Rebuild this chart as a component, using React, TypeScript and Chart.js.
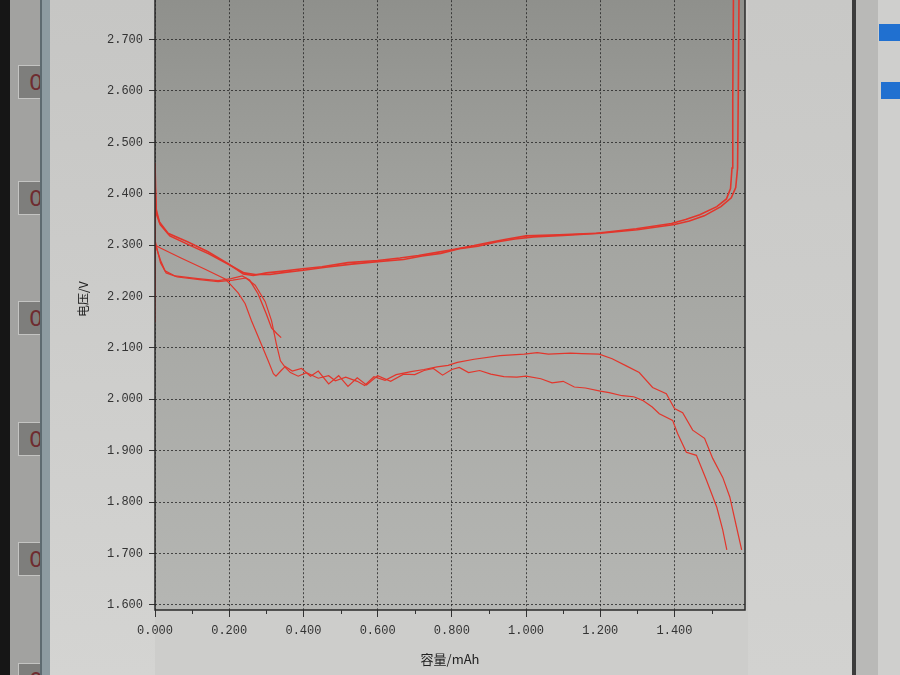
import React, { useEffect, useRef } from "react";
import { Chart, registerables } from "chart.js";
Chart.register(...registerables);

// ---- axis ticks ----
const X_TICKS = [0, 0.2, 0.4, 0.6, 0.8, 1.0, 1.2, 1.4];
const X_MINOR = [0.1, 0.3, 0.5, 0.7, 0.9, 1.1, 1.3, 1.5];
const Y_TICKS = [1.6, 1.7, 1.8, 1.9, 2.0, 2.1, 2.2, 2.3, 2.4, 2.5, 2.6, 2.7];
const X_RANGE = [0, 1.59];
const Y_RANGE = [1.59, 2.8];

// ---- charge curves (容量 mAh, 电压 V) ----
const C1_X = [0, 0, 0.003, 0.012, 0.035, 0.089, 0.143, 0.197, 0.238, 0.265, 0.3, 0.34, 0.386, 0.45, 0.52, 0.6, 0.66, 0.71, 0.76, 0.8, 0.86, 0.9, 0.95, 1.0, 1.089, 1.189, 1.297, 1.392, 1.43, 1.468, 1.514, 1.54, 1.551, 1.555, 1.557, 1.559];
const C1_Y = [2.15, 2.46, 2.37, 2.345, 2.323, 2.306, 2.287, 2.264, 2.244, 2.241, 2.246, 2.249, 2.253, 2.258, 2.266, 2.27, 2.275, 2.28, 2.286, 2.291, 2.299, 2.305, 2.312, 2.318, 2.32, 2.323, 2.332, 2.342, 2.35, 2.359, 2.375, 2.39, 2.41, 2.45, 2.58, 2.8];
const C2_X = [0, 0, 0.004, 0.014, 0.04, 0.09, 0.145, 0.2, 0.24, 0.27, 0.31, 0.35, 0.4, 0.46, 0.53, 0.6, 0.67, 0.72, 0.77, 0.82, 0.87, 0.92, 0.97, 1.02, 1.1, 1.2, 1.3, 1.4, 1.44, 1.48, 1.525, 1.553, 1.565, 1.57, 1.572, 1.574];
const C2_Y = [2.2, 2.42, 2.36, 2.34, 2.318, 2.301, 2.283, 2.262, 2.246, 2.243, 2.243, 2.247, 2.251, 2.257, 2.263, 2.268, 2.272, 2.279, 2.284, 2.293, 2.298, 2.306, 2.312, 2.316, 2.319, 2.323, 2.33, 2.34, 2.347, 2.357, 2.375, 2.392, 2.412, 2.45, 2.6, 2.8];

// ---- discharge curves ----
const D1_X = [0, 0.016, 0.07, 0.135, 0.189, 0.2, 0.224, 0.243, 0.26, 0.286, 0.305, 0.319, 0.326, 0.34, 0.351, 0.37, 0.395, 0.419, 0.44, 0.468, 0.495, 0.52, 0.545, 0.57, 0.6, 0.635, 0.67, 0.7, 0.725, 0.75, 0.775, 0.8, 0.82, 0.845, 0.875, 0.905, 0.94, 0.975, 1.0, 1.04, 1.07, 1.1, 1.13, 1.16, 1.2, 1.224, 1.259, 1.29, 1.314, 1.34, 1.359, 1.395, 1.408, 1.432, 1.459, 1.486, 1.514, 1.53, 1.541];
const D1_Y = [2.3, 2.294, 2.275, 2.253, 2.234, 2.226, 2.207, 2.186, 2.153, 2.108, 2.075, 2.05, 2.045, 2.056, 2.064, 2.055, 2.06, 2.045, 2.055, 2.03, 2.046, 2.025, 2.042, 2.028, 2.046, 2.035, 2.049, 2.048, 2.056, 2.06, 2.047, 2.058, 2.062, 2.052, 2.056, 2.049, 2.044, 2.043, 2.045, 2.04, 2.032, 2.035, 2.024, 2.022, 2.016, 2.013, 2.007, 2.005, 1.998, 1.985, 1.972, 1.959, 1.934, 1.897, 1.891, 1.843, 1.79, 1.746, 1.707];
const D2_X = [0, 0.008, 0.015, 0.03, 0.06, 0.12, 0.17, 0.21, 0.245, 0.27, 0.297, 0.314, 0.327, 0.338, 0.351, 0.365, 0.386, 0.408, 0.44, 0.468, 0.486, 0.514, 0.545, 0.565, 0.59, 0.62, 0.65, 0.69, 0.725, 0.76, 0.79, 0.815, 0.86, 0.93, 0.995, 1.03, 1.06, 1.12, 1.15, 1.197, 1.232, 1.27, 1.305, 1.341, 1.378, 1.4, 1.422, 1.449, 1.481, 1.503, 1.53, 1.549, 1.567, 1.581];
const D2_Y = [2.31, 2.285, 2.265, 2.246, 2.238, 2.233, 2.229, 2.232, 2.236, 2.222, 2.19, 2.153, 2.108, 2.075, 2.062, 2.052, 2.045, 2.052, 2.041, 2.046, 2.036, 2.043, 2.035, 2.027, 2.044, 2.037, 2.048, 2.054, 2.058, 2.063, 2.066, 2.072, 2.078, 2.085, 2.088, 2.091, 2.088, 2.09, 2.089, 2.088, 2.079, 2.065, 2.052, 2.023, 2.011, 1.982, 1.974, 1.94, 1.924, 1.885, 1.848, 1.81, 1.752, 1.707];
const D3_X = [0, 0.006, 0.015, 0.027, 0.054, 0.116, 0.17, 0.205, 0.235, 0.255, 0.278, 0.3, 0.314, 0.328, 0.34];
const D3_Y = [2.305, 2.29, 2.27, 2.25, 2.24, 2.235, 2.231, 2.235, 2.24, 2.232, 2.205, 2.166, 2.139, 2.128, 2.12];

const SERIES = [
  { xs: C1_X, ys: C1_Y, w: 1.6 },
  { xs: C2_X, ys: C2_Y, w: 1.6 },
  { xs: D1_X, ys: D1_Y, w: 1.2 },
  { xs: D2_X, ys: D2_Y, w: 1.2 },
  { xs: D3_X, ys: D3_Y, w: 1.3 },
];

const framePlugin = {
  id: "frame",
  beforeDraw(chart: any) {
    const { ctx, chartArea } = chart;
    const { left, top, right, bottom } = chartArea;
    const g = ctx.createLinearGradient(0, top, 0, bottom);
    g.addColorStop(0, "#8e8f8b");
    g.addColorStop(0.4, "#a4a5a1");
    g.addColorStop(1, "#b5b6b3");
    ctx.save();
    ctx.fillStyle = g;
    ctx.fillRect(left, top, right - left, bottom - top);
    ctx.restore();
  },
  afterDraw(chart: any) {
    const { ctx, chartArea, scales } = chart;
    const { left, top, right, bottom } = chartArea;
    ctx.save();
    ctx.strokeStyle = "#2a2a2a";
    ctx.lineWidth = 1.5;
    ctx.beginPath();
    ctx.moveTo(left, top);
    ctx.lineTo(left, bottom);
    ctx.lineTo(right, bottom);
    ctx.lineTo(right, top);
    ctx.stroke();
    ctx.lineWidth = 1;
    ctx.strokeStyle = "#333";
    ctx.beginPath();
    for (const v of X_MINOR) {
      const px = Math.round(scales.x.getPixelForValue(v)) + 0.5;
      ctx.moveTo(px, bottom);
      ctx.lineTo(px, bottom + 4);
    }
    ctx.stroke();
    ctx.restore();
  },
};

export default function App() {
  const ref = useRef<HTMLCanvasElement | null>(null);
  useEffect(() => {
    if (!ref.current) return;
    const chart = new Chart(ref.current, {
      type: "line",
      data: {
        datasets: SERIES.map((s) => ({
          data: s.xs.map((x, i) => ({ x, y: s.ys[i] })),
          borderColor: "#e2362c",
          borderWidth: s.w,
          pointRadius: 0,
          tension: 0,
          fill: false,
        })),
      },
      options: {
        animation: false,
        responsive: false,
        maintainAspectRatio: false,
        layout: { padding: { left: 72, right: 155, top: 0, bottom: 6 } },
        plugins: { legend: { display: false }, tooltip: { enabled: false } },
        scales: {
          x: {
            type: "linear",
            min: X_RANGE[0],
            max: X_RANGE[1],
            afterBuildTicks: (s: any) => {
              s.ticks = X_TICKS.map((v) => ({ value: v }));
            },
            afterFit: (s: any) => {
              s.height = 61;
            },
            grid: {
              color: "rgba(30,30,30,0.75)",
              lineWidth: 1,
              tickLength: 7,
              tickColor: "#333",
              tickBorderDash: [],
            },
            border: { display: false, dash: [2, 2] },
            ticks: {
              padding: 7,
              color: "#333",
              font: { family: "Liberation Mono", size: 12 },
              callback: (v: any) => Number(v).toFixed(3),
              maxRotation: 0,
            },
            title: {
              display: true,
              text: "容量/mAh",
              color: "#222",
              font: { family: "Noto Sans CJK SC", size: 13 },
              padding: { top: 4, bottom: 4 },
            },
          },
          y: {
            type: "linear",
            min: Y_RANGE[0],
            max: Y_RANGE[1],
            afterBuildTicks: (s: any) => {
              s.ticks = Y_TICKS.map((v) => ({ value: v }));
            },
            afterFit: (s: any) => {
              s.width = 83;
            },
            grid: {
              color: "rgba(30,30,30,0.75)",
              lineWidth: 1,
              tickLength: 6,
              tickColor: "#333",
              tickBorderDash: [],
            },
            border: { display: false, dash: [2, 2] },
            ticks: {
              padding: 6,
              color: "#333",
              font: { family: "Liberation Mono", size: 12 },
              callback: (v: any) => Number(v).toFixed(3),
            },
            title: {
              display: true,
              text: "电压/V",
              color: "#222",
              font: { family: "Noto Sans CJK SC", size: 12 },
              padding: { top: 4, bottom: 4 },
            },
          },
        },
      },
      plugins: [framePlugin],
    } as any);
    return () => chart.destroy();
  }, []);

  const boxTops = [65, 181, 301, 422, 542, 663];
  return (
    <div
      style={{
        position: "fixed",
        left: 0,
        top: 0,
        width: 900,
        height: 675,
        overflow: "hidden",
        background: "#cdcdcb",
      }}
    >
      <div style={{ position: "absolute", left: 0, top: 0, width: 10, height: 675, background: "#161616" }} />
      <div style={{ position: "absolute", left: 10, top: 0, width: 30, height: 675, background: "#a2a2a0" }} />
      {boxTops.map((t) => (
        <div
          key={t}
          style={{
            position: "absolute",
            left: 18,
            top: t,
            width: 24,
            height: 34,
            background: "#7e7e7c",
            border: "1px solid #c4c4c2",
            overflow: "hidden",
            fontFamily: "DejaVu Sans",
            fontSize: 22,
            lineHeight: "34px",
            color: "#6e2c30",
            paddingLeft: 10,
            boxSizing: "border-box",
          }}
        >
          0
        </div>
      ))}
      <div style={{ position: "absolute", left: 40, top: 0, width: 10, height: 675, background: "#8d9ba1", borderLeft: "2px solid #5d6a70" }} />
      <div style={{ position: "absolute", left: 50, top: 0, width: 105, height: 675, background: "linear-gradient(#c6c6c4, #d4d4d2)" }} />
      <div style={{ position: "absolute", left: 748, top: 0, width: 104, height: 675, background: "linear-gradient(#c8c8c6, #d2d2d0)" }} />
      <div style={{ position: "absolute", left: 852, top: 0, width: 4, height: 675, background: "#3c3c3c" }} />
      <div style={{ position: "absolute", left: 856, top: 0, width: 22, height: 675, background: "#b9b9b7" }} />
      <div style={{ position: "absolute", left: 878, top: 0, width: 22, height: 675, background: "#cfcfcd" }} />
      <div style={{ position: "absolute", left: 879, top: 24, width: 21, height: 17, background: "#2070d0" }} />
      <div style={{ position: "absolute", left: 881, top: 82, width: 19, height: 17, background: "#2070d0" }} />
      <canvas
        ref={ref}
        width={900}
        height={702}
        style={{ position: "absolute", left: 0, top: -25, width: 900, height: 702 }}
      />
    </div>
  );
}
